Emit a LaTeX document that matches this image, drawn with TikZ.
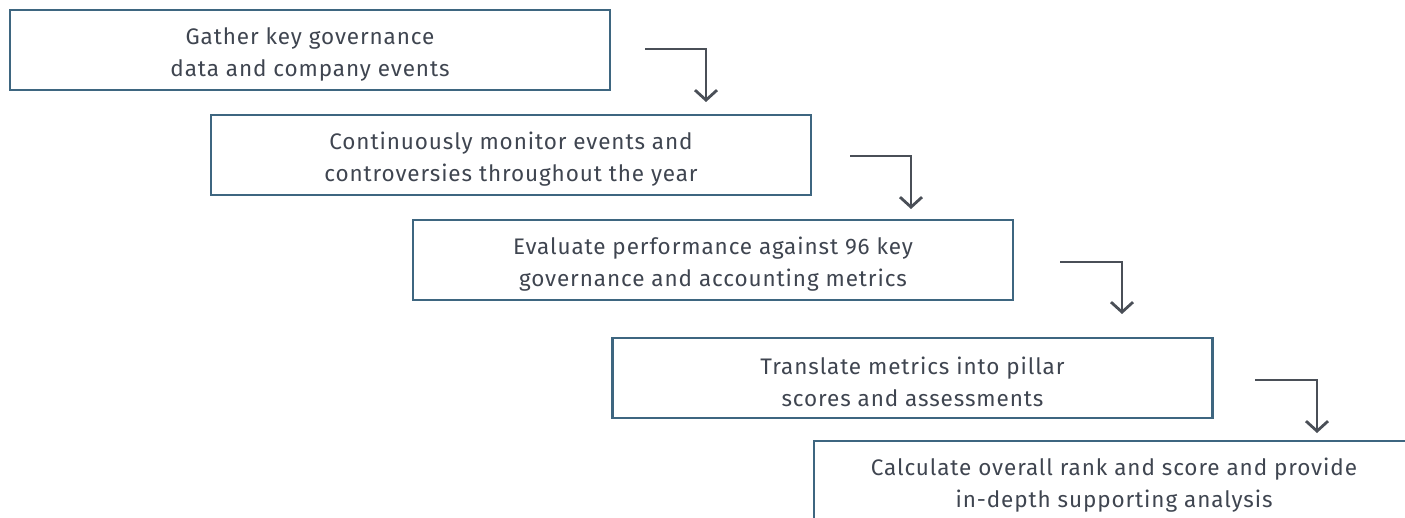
\documentclass[tikz,border=0pt]{standalone}
\usepackage{fontspec}
\setmainfont[LetterSpace=4]{Fira Sans}
\usetikzlibrary{arrows.meta}
\definecolor{boxblue}{HTML}{3E6680}
\definecolor{txtgray}{HTML}{3F4550}
\definecolor{arrgray}{HTML}{4A4F57}
\newcommand{\lowerstrut}{\rule{0pt}{25pt}}
\tikzset{
  stepbox/.style={draw=boxblue, line width=2.6pt, minimum width=600pt, minimum height=80pt,
    inner sep=0pt, align=center, text=txtgray, font=\fontsize{22.5}{32}\selectfont},
  flowarrow/.style={draw=arrgray, line width=2.8pt, -{Straight Barb[length=10pt,width=22pt,line width=2.8pt]}}
}
\begin{document}
\begin{tikzpicture}[x=1pt,y=-1pt]
\clip (0,0) rectangle (1405,518);
\useasboundingbox (0,0) rectangle (1405,518);
\node[stepbox] (b1) at (310,50) {\lowerstrut Gather key governance\\data and company events};
\node[stepbox] (b2) at (511,155) {\lowerstrut Continuously monitor events and\\controversies throughout the year};
\node[stepbox] (b3) at (713,260) {\lowerstrut Evaluate performance against 96 key\\governance and accounting metrics};
\node[stepbox] (b4) at (912.5,378) {\lowerstrut Translate metrics into pillar\\scores and assessments};
\node[stepbox] (b5) at (1114,481) {\lowerstrut Calculate overall rank and score and provide\\in-depth supporting analysis};
\coordinate (a1s) at (645,49);  \coordinate (a1e) at (706,102);
\coordinate (a2s) at (850,156); \coordinate (a2e) at (911,209);
\coordinate (a3s) at (1060,262); \coordinate (a3e) at (1122,314);
\coordinate (a4s) at (1255,380); \coordinate (a4e) at (1317,433);
\draw[flowarrow] (a1s) -| (a1e);
\draw[flowarrow] (a2s) -| (a2e);
\draw[flowarrow] (a3s) -| (a3e);
\draw[flowarrow] (a4s) -| (a4e);
\end{tikzpicture}
\end{document}
